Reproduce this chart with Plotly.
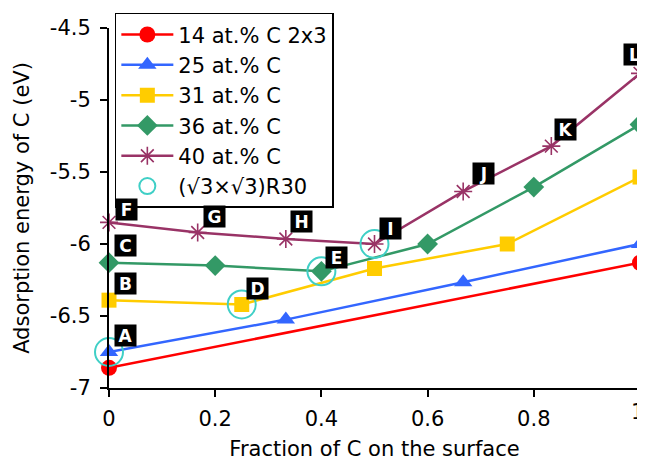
import plotly.graph_objects as go

# ---- data ----
names = ["14 at.% C 2x3", "25 at.% C", "31 at.% C", "36 at.% C", "40 at.% C"]
x14 = [0, 1]
y14 = [-6.86, -6.13]
x25 = [0, 0.333, 0.667, 1]
y25 = [-6.75, -6.525, -6.265, -6.0]
x31 = [0, 0.25, 0.5, 0.75, 1]
y31 = [-6.39, -6.42, -6.17, -6.0, -5.535]
x36 = [0, 0.2, 0.4, 0.6, 0.8, 1]
y36 = [-6.13, -6.15, -6.19, -6.0, -5.605, -5.17]
x40 = [0, 0.167, 0.333, 0.5, 0.667, 0.833, 1]
y40 = [-5.85, -5.92, -5.965, -6.0, -5.635, -5.32, -4.815]
ring_name = "(√3×√3)R30"
x_ring = [0, 0.25, 0.4, 0.5]
y_ring = [-6.75, -6.42, -6.19, -6.0]

label_text = ["A", "B", "C", "D", "E", "F", "G", "H", "I", "J", "K", "L"]
label_x = [0, 0, 0, 0.25, 0.4, 0, 0.167, 0.333, 0.5, 0.667, 0.833, 1]
label_y = [-6.75, -6.39, -6.13, -6.42, -6.19, -5.85, -5.92, -5.965, -6.0, -5.635, -5.32, -4.815]

xticks = [0, 0.2, 0.4, 0.6, 0.8, 1]
xtick_text = ["0", "0.2", "0.4", "0.6", "0.8", "1"]
yticks = [-7, -6.5, -6, -5.5, -5, -4.5]
ytick_text = ["-7", "-6.5", "-6", "-5.5", "-5", "-4.5"]

FONT = "DejaVu Sans"
FS = 21

fig = go.Figure()

styles = [
    dict(color="#ff0000", symbol="circle", size=16),
    dict(color="#3366ff", symbol="triangle-up", size=16),
    dict(color="#ffcc00", symbol="square", size=15),
    dict(color="#339966", symbol="diamond", size=16),
]
for (xs, ys), nm, st in zip([(x14, y14), (x25, y25), (x31, y31), (x36, y36)], names[:4], styles):
    fig.add_trace(go.Scatter(
        x=xs, y=ys, name=nm, mode="lines+markers",
        line=dict(color=st["color"], width=2.5),
        marker=dict(color=st["color"], symbol=st["symbol"], size=st["size"]),
        cliponaxis=False,
    ))

fig.add_trace(go.Scatter(
    x=x40, y=y40, name=names[4], mode="lines+markers",
    line=dict(color="#993366", width=2.5),
    marker=dict(symbol="asterisk-open", size=15, color="#993366",
                line=dict(color="#993366", width=1.6)),
    cliponaxis=False,
))

fig.add_trace(go.Scatter(
    x=x_ring, y=y_ring, name=ring_name, mode="markers",
    marker=dict(symbol="circle-open", size=28, color="#3fcfc6",
                line=dict(color="#3fcfc6", width=2)),
    cliponaxis=False,
))

offsets = {
    "A": (16, 17), "B": (16, 17), "C": (16, 17), "D": (16, 16), "E": (15, 14),
    "F": (17, 13), "G": (17, 16), "H": (16, 17), "I": (16, 16), "J": (20, 18),
    "K": (14, 17), "L": (-6, 19),
}
for t, lx, ly in zip(label_text, label_x, label_y):
    dx, dy = offsets[t]
    fig.add_annotation(
        x=lx, y=ly, text="<b>" + t + "</b>", showarrow=False,
        xshift=dx, yshift=dy, bgcolor="black", width=21, height=21,
        borderpad=0, font=dict(family=FONT, size=17, color="white"),
    )

# last x tick label drawn as an annotation nudged inside the window edge
shown_xtick_text = xtick_text[:-1] + [""]
fig.add_annotation(
    x=xticks[-1], xref="x", y=0, yref="paper", yanchor="top",
    text=xtick_text[-1], showarrow=False, xshift=-3, yshift=-10,
    font=dict(family=FONT, size=FS, color="black"),
)

# the page body adds an 8px offset, so the figure is sized to fit the window
fig.update_layout(
    width=637, height=453,
    margin=dict(l=101, r=5, t=20, b=73, autoexpand=False),
    paper_bgcolor="white", plot_bgcolor="white",
    font=dict(family=FONT, size=FS, color="black"),
    showlegend=True,
    legend=dict(
        x=0.011, y=1.042, xanchor="left", yanchor="top",
        bgcolor="white", bordercolor="black", borderwidth=1.5,
        font=dict(family=FONT, size=FS), tracegroupgap=0,
        itemsizing="trace", itemwidth=52,
    ),
    xaxis=dict(
        range=[0, 1], tickvals=xticks, ticktext=shown_xtick_text,
        showgrid=False, zeroline=False, showline=True, linecolor="black", linewidth=2,
        ticks="outside", ticklen=7, tickwidth=2, tickcolor="black",
        ticklabelstandoff=4, ticklabeloverflow="allow",
        title=dict(text="Fraction of C on the surface", font=dict(size=FS), standoff=12),
        tickfont=dict(size=FS),
    ),
    yaxis=dict(
        range=[-7, -4.5], tickvals=yticks, ticktext=ytick_text,
        showgrid=False, zeroline=False, showline=True, linecolor="black", linewidth=2,
        ticks="outside", ticklen=7, tickwidth=2, tickcolor="black",
        ticklabelstandoff=5,
        title=dict(text="Adsorption energy of C (eV)", font=dict(size=FS), standoff=14),
        tickfont=dict(size=FS),
    ),
)

fig.write_html("out.html")
